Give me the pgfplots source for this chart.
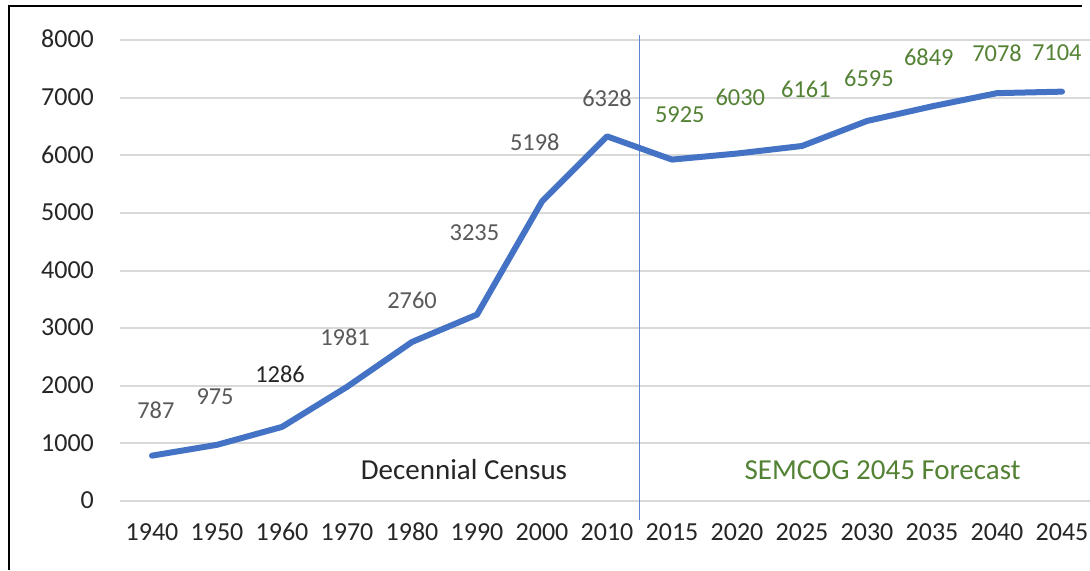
\documentclass[border=0pt]{standalone}
\usepackage{fontspec}
\setmainfont{Carlito}
\usepackage{pgfplots}
\usepackage{pgfplotstable}
\pgfplotsset{compat=1.18}
\definecolor{lineblue}{HTML}{4472C4}
\definecolor{vblue}{HTML}{5B85D6}
\definecolor{labgray}{HTML}{595959}
\definecolor{labgreen}{HTML}{548235}
\definecolor{gridgray}{HTML}{D9D9D9}
\definecolor{txt}{HTML}{262626}

\pgfplotstableread{
idx pop
0 787
1 975
2 1286
3 1981
4 2760
5 3235
6 5198
7 6328
8 5925
9 6030
10 6161
11 6595
12 6849
13 7078
14 7104
}\popdata

\pgfplotstableread{
x y label
0.06 1570 787
0.97 1817 975
2.97 2841 1981
4.00 3474 2760
4.96 4663 3235
5.89 6227 5198
7.00 6993 6328
}\censuslabels

\pgfplotstableread{
x y label
1.97 2192 1286
}\blacklabels

\pgfplotstableread{
x y label
8.12 6711 5925
9.05 7011 6030
10.06 7141 6161
11.03 7329 6595
11.95 7700 6849
13.00 7775 7078
13.92 7775 7104
}\forecastlabels

\begin{document}
\begin{tikzpicture}
\useasboundingbox (0,0) rectangle (545pt,285pt);
\clip (0,0) rectangle (545pt,285pt);
\fill[white] (0,0) rectangle (545pt,285pt);
\begin{axis}[
  at={(59.75pt,34.5pt)}, anchor=south west,
  scale only axis,
  width=487.5pt, height=230.5pt,
  xmin=-0.5, xmax=14.5, ymin=0, ymax=8000,
  clip=false,
  axis line style={draw=none},
  major tick length=0pt,
  ymajorgrids,
  grid style={color=gridgray, line width=1pt},
  xtick={0,1,...,14},
  xticklabels={1940,1950,1960,1970,1980,1990,2000,2010,2015,2020,2025,2030,2035,2040,2045},
  ytick={0,1000,...,8000},
  /pgf/number format/1000 sep={},
  /pgf/number format/assume math mode=true,
  ticklabel style={font=\fontsize{13}{15}\selectfont, text=txt, inner sep=0pt},
  xticklabel style={anchor=base, yshift=-19.5pt},
  yticklabel style={anchor=base east, yshift=-3.9pt, xshift=-12.6pt},
  nodes near coords style={anchor=center, inner sep=0pt, font=\fontsize{12.2}{15}\selectfont},
]
\addplot[vblue, line width=0.8pt] coordinates {(7.5,-330) (7.5,8087)};
\addplot[lineblue, line width=3pt, line join=round, line cap=round, mark=none] table[x=idx, y=pop] {\popdata};
\addplot[draw=none, mark=none, nodes near coords, point meta=explicit symbolic,
  nodes near coords style={text=labgray}] table[x=x, y=y, meta=label] {\censuslabels};
\addplot[draw=none, mark=none, nodes near coords, point meta=explicit symbolic,
  nodes near coords style={text=txt}] table[x=x, y=y, meta=label] {\blacklabels};
\addplot[draw=none, mark=none, nodes near coords, point meta=explicit symbolic,
  nodes near coords style={text=labgreen}] table[x=x, y=y, meta=label] {\forecastlabels};
\node[anchor=base, inner sep=0pt, font=\fontsize{14.5}{17}\selectfont, text=txt] at (axis cs:4.8,382) {Decennial Census};
\node[anchor=base, inner sep=0pt, font=\fontsize{14.5}{17}\selectfont, text=labgreen] at (axis cs:11.24,382) {SEMCOG 2045 Forecast};
\end{axis}
\draw[line width=1pt, black] (4.5pt,0) -- (4.5pt,282pt) -- (541pt,282pt);
\end{tikzpicture}
\end{document}
